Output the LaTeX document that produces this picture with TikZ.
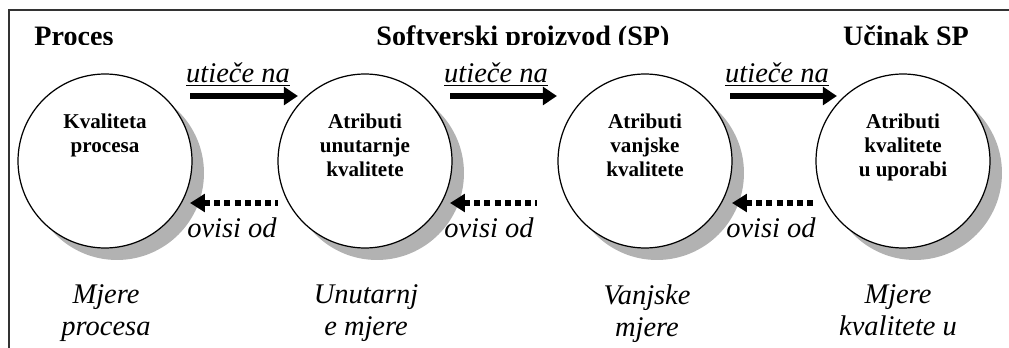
\documentclass[tikz,border=0pt]{standalone}
\usepackage{fontspec}
\setmainfont{Liberation Serif}
\usetikzlibrary{arrows.meta}
\usetikzlibrary{positioning}

\tikzset{
  kvcircle/.style={circle, draw=black, line width=0.7pt, fill=white, minimum size=3.48cm, inner sep=0pt},
  kvshadow/.style={circle, fill=gray!60, minimum size=3.48cm, inner sep=0pt},
  kvtext/.style={anchor=north, inner sep=0pt, align=center, font=\fontsize{12}{13.5}\selectfont\bfseries},
  heading/.style={anchor=base, inner sep=0pt, font=\fontsize{16}{19}\selectfont\bfseries},
  arrowlabel/.style={anchor=base, inner sep=0pt, font=\fontsize{16.2}{18}\selectfont\itshape},
  measure/.style={anchor=north, inner sep=0pt, align=center, font=\fontsize{16.2}{18.4}\selectfont\itshape},
  influence/.style={line width=3.4pt, -{Triangle[length=8pt,width=10pt]}},
  depends/.style={line width=3.4pt, dash pattern=on 3.4pt off 2.4pt, {Triangle[length=8.5pt,width=10pt]}-}
}

\begin{document}
\begin{tikzpicture}[x=0.02cm,y=-0.02cm]
            \useasboundingbox (0,0) rectangle (1009,348);

            % Frame
            \draw[black!80, line width=0.6pt] (1009,10) -- (9,10) -- (9,348);

            % Headings (cut at the bottom)
            \begin{scope}
              \clip (10,11) rectangle (1009,45);
              \node[heading] (hproc) at (74,46) {Proces};
              \node[heading] (hsp) at (523,46) {Softverski proizvod (SP)};
              \node[heading] (hucin) at (906,46) {Učinak SP};
            \end{scope}

            % Shadows
            \node[kvshadow] (s1) at (117,173) {};
            \node[kvshadow] (s2) at (377,173) {};
            \node[kvshadow] (s3) at (657,173) {};
            \node[kvshadow] (s4) at (915,173) {};

            % Circles
            \node[kvcircle] (proc) at (105,161) {};
            \node[kvcircle] (unut) at (365,161) {};
            \node[kvcircle] (vanj) at (645,161) {};
            \node[kvcircle] (upor) at (903,161) {};

            \node[kvtext] (tproc) at (105,114) {Kvaliteta\\procesa};
            \node[kvtext] (tunut) at (365,114) {Atributi\\unutarnje\\kvalitete};
            \node[kvtext] (tvanj) at (645,114) {Atributi\\vanjske\\kvalitete};
            \node[kvtext] (tupor) at (903,114) {Atributi\\kvalitete\\u uporabi};

            % utiece na
            \coordinate (u1s) at (190,96);  \coordinate (u1e) at (298,96);
            \coordinate (u2s) at (450,96);  \coordinate (u2e) at (557,96);
            \coordinate (u3s) at (730,96);  \coordinate (u3e) at (837,96);
            \draw[influence] (u1s) -- (u1e);
            \draw[influence] (u2s) -- (u2e);
            \draw[influence] (u3s) -- (u3e);
            \node[arrowlabel] (lu1) at (238,83) {\underline{utieče na}};
            \node[arrowlabel] (lu2) at (496,83) {\underline{utieče na}};
            \node[arrowlabel] (lu3) at (777,83) {\underline{utieče na}};

            % ovisi od
            \coordinate (o1s) at (190,203); \coordinate (o1e) at (278,203);
            \coordinate (o2s) at (450,203); \coordinate (o2e) at (537,203);
            \coordinate (o3s) at (732,203); \coordinate (o3e) at (817,203);
            \draw[depends] (o1s) -- (o1e);
            \draw[depends] (o2s) -- (o2e);
            \draw[depends] (o3s) -- (o3e);
            \node[arrowlabel] (lo1) at (232,238) {ovisi od};
            \node[arrowlabel] (lo2) at (489,238) {ovisi od};
            \node[arrowlabel] (lo3) at (771,238) {ovisi od};

            % Mjere
            \node[measure] (mproc) at (106,284) {Mjere\\procesa};
            \node[measure] (munut) at (366,284) {Unutarnj\\e mjere};
            \node[measure] (mvanj) at (647,284) {Vanjske\\mjere};
            \node[measure] (mupor) at (898,284) {Mjere\\kvalitete u};

        \end{tikzpicture}
\end{document}
